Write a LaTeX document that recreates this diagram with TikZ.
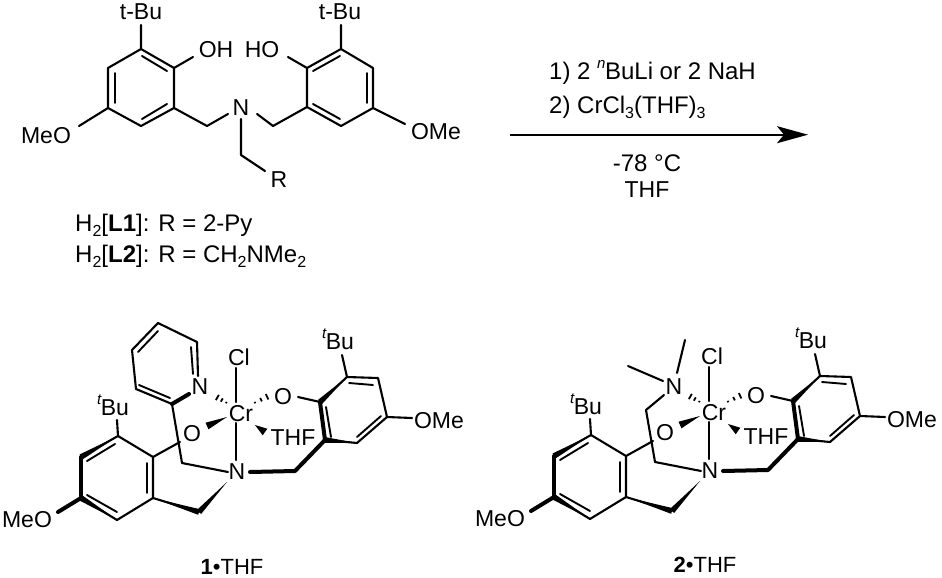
\documentclass[tikz,border=0pt]{standalone}
\usepackage{fontspec}
\setmainfont{Liberation Sans}
\usetikzlibrary{calc,arrows.meta}
\newcommand{\lsub}[1]{\raisebox{-0.22em}{\fontsize{16}{16}\selectfont #1}}
\newcommand{\lsup}[1]{\raisebox{0.48em}{\fontsize{15}{15}\selectfont\itshape #1}}
\tikzset{
  atomlabel/.style={inner sep=0pt,font=\fontsize{23}{26}\selectfont},
  infotext/.style={inner sep=0pt,anchor=base west,font=\fontsize{24}{26}\selectfont},
  centertext/.style={inner sep=0pt,anchor=base,font=\fontsize{22}{26}\selectfont},
  bond/.style={line width=2.1pt,line cap=round,line join=round},
  thickbond/.style={line width=4pt,line cap=round,line join=round},
  inner/.style={line width=1.9pt,line cap=round},
  hashtick/.style={line width=1.8pt}
}
% narrow tip at #1, wide end at #2, half width #3
\newcommand{\wedgebond}[3]{\fill (#1) -- ($(#2)!#3!90:(#1)$) -- ($(#2)!#3!-90:(#1)$) -- cycle;}
% tapered bond: a normal line that swells towards #2
\newcommand{\taperbond}[2]{\draw[bond] (#1)--(#2); \wedgebond{#1}{#2}{2.9pt}}
% narrow end at #1, wide end at #2
\newcommand{\hashbond}[2]{\foreach \t/\w in {0.05/0.8pt,0.37/1.9pt,0.69/3pt,1.0/4.2pt}{
  \draw[hashtick] ($(#1)!\t!(#2)!\w!90:(#2)$) -- ($(#1)!\t!(#2)!\w!-90:(#2)$);}}
% common part of the two complexes; #1 = prefix
\newcommand{\crcore}[1]{
  \node[atomlabel] (#1cr) at (241,414) {Cr};
  \node[atomlabel] (#1cl) at (239,357) {Cl};
  \node[atomlabel] (#1ol) at (192,434) {O};
  \node[atomlabel] (#1or) at (283,397) {O};
  \node[atomlabel] (#1thf) at (293,438) {THF};
  \node[atomlabel] (#1n) at (237,472) {N};
  \node[atomlabel] (#1tbl) at (113,405) {\lsup{t}\kern-0.5pt Bu};
  \node[atomlabel] (#1tbr) at (338,339) {\lsup{t}\kern-0.5pt Bu};
  \node[atomlabel] (#1meo) at (27,520) {MeO};
  \node[atomlabel] (#1ome) at (439,421) {OMe};
  \foreach \n/\p in {a/{118,436},b/{153,457},c/{153,498},d/{117,520},e/{81,498},f/{81,457},
     g/{347,377},h/{378,378},i/{387,417},j/{357,443},k/{325,440},l/{320,402},
     m/{199,512},o/{295,471},q/{182,463},
     ue/{58,512},ua/{117,420},ub/{180,442},uc/{236,368},ud/{236,402},uf/{236,423},ug/{236,460},
     uh/{228,472},ui/{250,472},uj/{227,482},uk/{298,397},ul/{342,355},um/{412,418},
     un/{227,417},uo/{207,426},up/{255,425},uq/{265,432},ur/{254,403},us/{273,394},ut/{227,403},uu/{213,395}}
     {\coordinate (#1\n) at (\p);}
  % left ring
  \draw[bond] (#1a)--(#1b)--(#1c)--(#1d);
  \taperbond{#1a}{#1f}
  \draw[thickbond] (#1f)--(#1e);
  \taperbond{#1d}{#1e}
  \draw[inner] (87,461)--(115,444) (87,495)--(117,512) (147,463)--(147,493);
  \draw[thickbond] (#1e)--(#1ue);
  \draw[bond] (#1a)--(#1ua) (#1b)--(#1ub);
  \taperbond{#1c}{#1m}
  \wedgebond{#1uj}{#1m}{2.9pt}
  \draw[bond] (#1q)--(#1uh);
  % right ring
  \draw[bond] (#1g)--(#1h)--(#1i)--(#1j);
  \taperbond{#1g}{#1l}
  \draw[thickbond] (#1l)--(#1k);
  \taperbond{#1j}{#1k}
  \draw[inner] (349,383)--(373,385) (381,416)--(357,437) (326,407)--(331,437);
  \draw[bond] (#1l)--(#1uk) (#1g)--(#1ul) (#1i)--(#1um);
  \draw[thickbond] (#1k)--(#1o)--(#1ui);
  % metal centre
  \draw[bond] (#1uc)--(#1ud) (#1uf)--(#1ug);
  \wedgebond{#1un}{#1uo}{3.6pt}
  \wedgebond{#1up}{#1uq}{4pt}
  \hashbond{#1ur}{#1us}
  \hashbond{#1ut}{#1uu}
}
\begin{document}
\begin{tikzpicture}[x=1pt,y=-1pt]
\useasboundingbox (0,0) rectangle (942,578);
\fill[white] (0,0) rectangle (942,578);
% ---------- free ligand ----------
\node[atomlabel] (tbl) at (141,12) {t-Bu};
\node[atomlabel] (tbr) at (340,12) {t-Bu};
\node[atomlabel] (oh) at (216,50) {OH};
\node[atomlabel] (ho) at (262,50) {HO};
\node[atomlabel] (lmeo) at (46,136) {MeO};
\node[atomlabel] (rome) at (436,132) {OMe};
\node[atomlabel] (ln) at (241,108) {N};
\node[atomlabel] (lr) at (279,180) {R};
\foreach \n/\p in {a/{141,49},b/{174,68},c/{174,108},d/{141,126},e/{108,108},f/{108,68},
  g/{341,49},h/{307,68},i/{307,107},j/{341,126},k/{373,108},l/{373,68},
  m/{207,126},o/{273,126},q/{241,155},
  ua/{141,25},ub/{341,25},uc/{193,57},ud/{288,57},ue/{79,126},uf/{405,124},
  ug/{228,114},uh/{257,114},ui/{241,119},uj/{265,171}}
  {\coordinate (L\n) at (\p);}
\draw[bond] (La)--(Lb)--(Lc)--(Ld)--(Le)--(Lf)--cycle;
\draw[bond] (Lg)--(Lh)--(Li)--(Lj)--(Lk)--(Ll)--cycle;
\draw[inner] (142,56)--(167,71) (115,73)--(115,103) (142,119)--(167,104);
\draw[inner] (313,71)--(340,56) (367,73)--(367,103) (313,104)--(340,119);
\draw[bond] (La)--(Lua) (Lg)--(Lub) (Lb)--(Luc) (Lh)--(Lud) (Le)--(Lue) (Lk)--(Luf);
\draw[bond] (Lc)--(Lm)--(Lug) (Luh)--(Lo)--(Li) (Lui)--(Lq)--(Luj);
\node[infotext] (h2l1) at (75,231) {H\lsub{2}[\textbf{L1}]: R = 2-Py};
\node[infotext] (h2l2) at (75,262) {H\lsub{2}[\textbf{L2}]: R = CH\lsub{2}NMe\lsub{2}};
% ---------- reaction arrow ----------
\node[infotext] (r1) at (549,80) {1) 2 \lsup{n}\kern-0.5pt BuLi or 2 NaH};
\node[infotext] (r2) at (549,113) {2) CrCl\lsub{3}(THF)\lsub{3}};
\node[centertext,font=\fontsize{24}{26}\selectfont] (r3) at (647,171) {-78 °C};
\node[centertext,font=\fontsize{23}{26}\selectfont] (r4) at (647,197) {THF};
\coordinate (as) at (510,134.7);
\coordinate (ae) at (808,134.7);
\draw[line width=2.2pt,-{Stealth[length=31pt,width=17pt,inset=7pt]}] (as)--(ae);
% ---------- complex 1 ----------
\begin{scope}
  \crcore{A}
  \node[atomlabel] (Apy) at (200,387) {N};
  \foreach \n/\p in {a/{158,323},b/{197,342},c/{198,376},d/{172,404},e/{136,389},f/{132,350},g/{189,394}}
    {\coordinate (P\n) at (\p);}
  \draw[bond] (Pc)--(Pb)--(Pa)--(Pf)--(Pe)--(Pd);
  \draw[inner] (138,352)--(158,331) (191,347)--(193,374) (139,385)--(170,398);
  \draw[thickbond] (Pd)--(Pg);
  \draw[bond] (Pd)--(Aq);
  \node[centertext] (lab1) at (232,574) {\textbf{1}\textbullet THF};
\end{scope}
% ---------- complex 2 ----------
\begin{scope}[shift={(473,-1)}]
  \crcore{B}
  \node[atomlabel] (Bnm) at (201,388) {N};
  \foreach \n/\p in {a/{190,382},b/{155,367},c/{204,374},d/{212,341},e/{191,396},f/{173,411}}
    {\coordinate (M\n) at (\p);}
  \draw[bond] (Ma)--(Mb) (Mc)--(Md) (Me)--(Mf)--(Bq);
  \node[centertext] (lab2) at (232,573) {\textbf{2}\textbullet THF};
\end{scope}
\end{tikzpicture}
\end{document}
